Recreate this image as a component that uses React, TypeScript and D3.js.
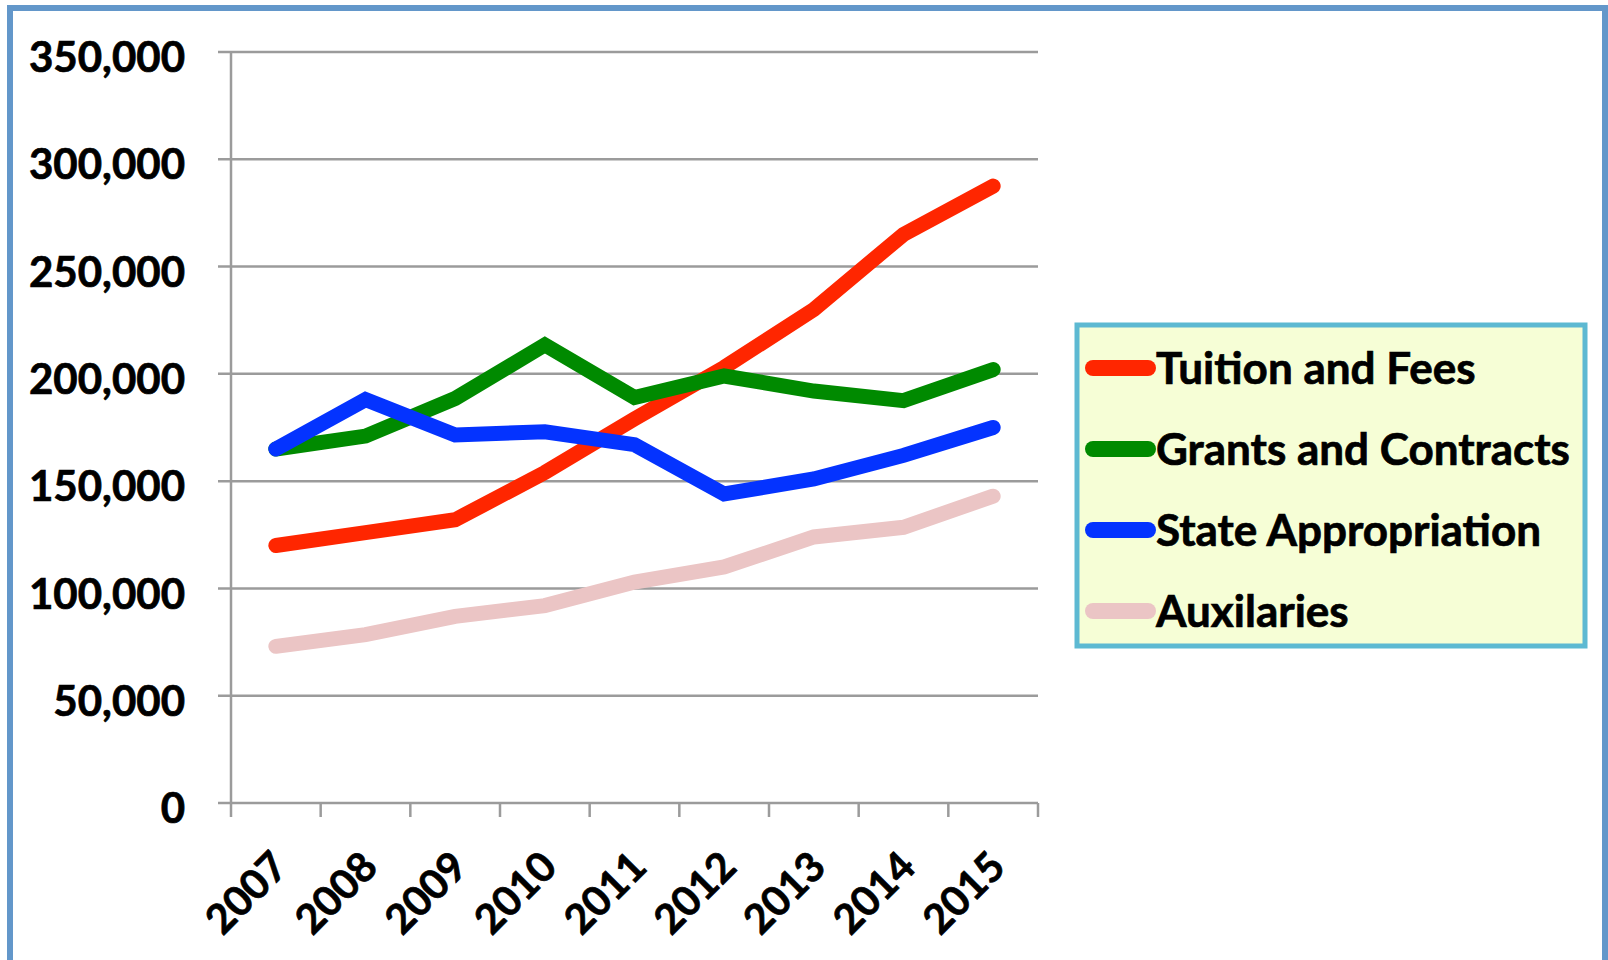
import { useEffect, useRef } from "react";
import * as d3 from "d3";

const years = ["2007", "2008", "2009", "2010", "2011", "2012", "2013", "2014", "2015"];
const tuition = [120000, 126000, 132000, 154000, 179000, 203000, 230000, 265000, 287500];
const grants = [165000, 171000, 188500, 213500, 189000, 199000, 192000, 187500, 202000];
const stateApp = [165000, 188000, 171500, 173000, 167000, 144000, 151000, 162000, 175000];
const auxilaries = [73000, 78500, 87000, 92000, 103000, 110000, 124000, 128500, 143000];
const yTicks = [0, 50000, 100000, 150000, 200000, 250000, 300000, 350000];

const seriesNames = ["Tuition and Fees", "Grants and Contracts", "State Appropriation", "Auxilaries"];
const seriesColors = ["#FF2600", "#008A00", "#0433FF", "#EBC5C5"];

export default function App() {
  const svgRef = useRef(null);

  useEffect(() => {
    const svg = d3.select(svgRef.current);
    svg.selectAll("*").remove();

    const font = "Lato, 'Open Sans', sans-serif";
    const left = 231;
    const right = 1038;
    const top = 52;
    const bottom = 803;

    const x = d3.scaleBand().domain(years).range([left, right]);
    const y = d3.scaleLinear().domain([0, 350000]).range([bottom, top]);
    const cx = (d: string) => (x(d) as number) + x.bandwidth() / 2;

    // outer frame
    svg
      .append("rect")
      .attr("x", 10)
      .attr("y", 8)
      .attr("width", 1595)
      .attr("height", 1000)
      .attr("fill", "#fff")
      .attr("stroke", "#6397CA")
      .attr("stroke-width", 6);

    // gridlines + y labels
    const g = svg.append("g");
    g.selectAll("line.grid")
      .data(yTicks)
      .join("line")
      .attr("class", "grid")
      .attr("x1", left - 13)
      .attr("x2", right)
      .attr("y1", (d) => y(d))
      .attr("y2", (d) => y(d))
      .attr("stroke", "#9B9B9B")
      .attr("stroke-width", 2.5);

    g.append("line")
      .attr("x1", left)
      .attr("x2", left)
      .attr("y1", top)
      .attr("y2", bottom)
      .attr("stroke", "#9B9B9B")
      .attr("stroke-width", 2.5);

    g.selectAll("text.ylab")
      .data(yTicks)
      .join("text")
      .attr("class", "ylab")
      .attr("x", 185)
      .attr("y", (d) => y(d) + 5)
      .attr("dy", "0.36em")
      .attr("text-anchor", "end")
      .attr("font-family", font)
      .attr("font-weight", 700)
      .attr("font-size", 42)
      .attr("stroke", "#000")
      .attr("stroke-width", 0.7)
      .text((d) => d3.format(",")(d));

    // x ticks at band edges
    const edges = years.map((d) => x(d) as number).concat([right]);
    g.selectAll("line.xt")
      .data(edges)
      .join("line")
      .attr("class", "xt")
      .attr("x1", (d) => d)
      .attr("x2", (d) => d)
      .attr("y1", bottom)
      .attr("y2", bottom + 14)
      .attr("stroke", "#9B9B9B")
      .attr("stroke-width", 2.5);

    g.selectAll("text.xlab")
      .data(years)
      .join("text")
      .attr("class", "xlab")
      .attr("transform", (d) => `translate(${cx(d) - 6},${bottom + 46}) rotate(-45)`)
      .attr("text-anchor", "end")
      .attr("dy", "0.7em")
      .attr("font-family", font)
      .attr("font-weight", 700)
      .attr("font-size", 41)
      .attr("stroke", "#000")
      .attr("stroke-width", 0.7)
      .text((d) => d);

    // lines
    const allSeries = [tuition, grants, stateApp, auxilaries];
    const line = d3
      .line<number>()
      .x((_, i) => cx(years[i]))
      .y((d) => y(d));
    const drawOrder = [3, 0, 1, 2];
    drawOrder.forEach((k) => {
      svg
        .append("path")
        .attr("d", line(allSeries[k]))
        .attr("fill", "none")
        .attr("stroke", seriesColors[k])
        .attr("stroke-width", 15)
        .attr("stroke-linecap", "round")
        .attr("stroke-linejoin", "miter");
    });

    // legend
    const lg = svg.append("g");
    lg.append("rect")
      .attr("x", 1077)
      .attr("y", 325)
      .attr("width", 508)
      .attr("height", 321)
      .attr("fill", "#F6FED6")
      .attr("stroke", "#5DB9D2")
      .attr("stroke-width", 5);
    seriesNames.forEach((name, i) => {
      const ly = 368 + i * 81;
      lg.append("line")
        .attr("x1", 1093)
        .attr("x2", 1148)
        .attr("y1", ly)
        .attr("y2", ly)
        .attr("stroke", seriesColors[i])
        .attr("stroke-width", 16)
        .attr("stroke-linecap", "round");
      lg.append("text")
        .attr("x", 1156)
        .attr("y", ly)
        .attr("dy", "0.36em")
        .attr("font-family", font)
        .attr("font-weight", 700)
        .attr("font-size", 44)
        .attr("stroke", "#000")
        .attr("stroke-width", 0.7)
        .text(name);
    });
  }, []);

  return (
    <svg
      ref={svgRef}
      width={1608}
      height={960}
      style={{ position: "absolute", left: 0, top: 0, display: "block" }}
    />
  );
}
